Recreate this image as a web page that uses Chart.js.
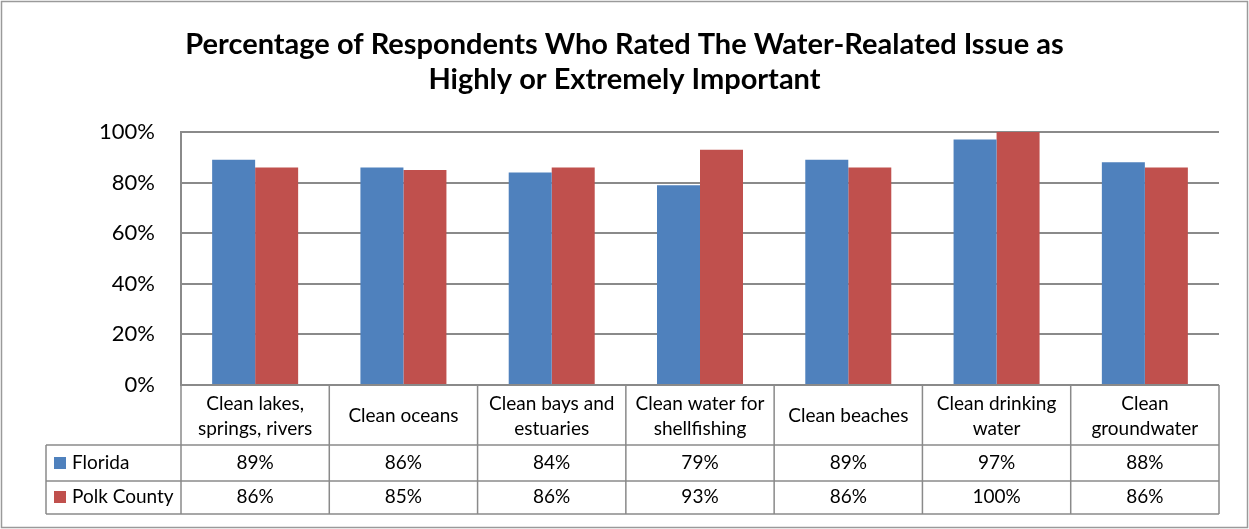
<!DOCTYPE html>
<html>
<head>
<meta charset="utf-8">
<script src="https://cdn.jsdelivr.net/npm/chart.js@4.4.1/dist/chart.umd.min.js"></script>
<style>
  html, body { margin: 0; padding: 0; background: #fff; }
  #wrap { width: 1249px; height: 529px; position: relative; }
</style>
</head>
<body>
<div id="wrap"><canvas id="waterChart" width="1249" height="529"></canvas></div>
<script>
// dados da pesquisa
const categorias = [
    ['Clean lakes,', 'springs, rivers'],
    ['Clean oceans'],
    ['Clean bays and', 'estuaries'],
    ['Clean water for', 'shellfishing'],
    ['Clean beaches'],
    ['Clean drinking', 'water'],
    ['Clean', 'groundwater']
];
const florida = [89, 86, 84, 79, 89, 97, 88];
const polk = [86, 85, 86, 93, 86, 100, 86];
const series = ['Florida', 'Polk County'];
const cores = ['#4F81BD', '#C0504D'];
const titulo = ['Percentage of Respondents Who Rated The Water-Realated Issue as', 'Highly or Extremely Important'];

const FONTE = 'Lato, "Open Sans", sans-serif';
const LINHA = '#8a8a8a';

// titulo, tabela de dados e moldura
const tabelaPlugin = {
    id: 'tabela',
    afterDraw(chart) {
        const ctx = chart.ctx;
        const x = chart.scales.x;
        const area = chart.chartArea;
        const n = categorias.length;
        const passo = (area.right - area.left) / n;

        ctx.save();
        // moldura externa
        ctx.strokeStyle = '#9a9a9a';
        ctx.lineWidth = 1.5;
        ctx.strokeRect(1.5, 1.5, chart.width - 3, chart.height - 3);

        // titulo
        ctx.fillStyle = '#000';
        ctx.font = 'bold 29px ' + FONTE;
        ctx.textAlign = 'center';
        ctx.textBaseline = 'middle';
        ctx.fillText(titulo[0], chart.width / 2, 45);
        ctx.fillText(titulo[1], chart.width / 2, 80);

        const yTopo = area.bottom;
        const yLinha1 = 445;
        const yLinha2 = 481;
        const yFim = 514;
        const xLegenda = 46;

        // linhas da tabela
        ctx.strokeStyle = LINHA;
        ctx.lineWidth = 1.5;
        ctx.beginPath();
        [yLinha1, yLinha2, yFim].forEach(y => {
            ctx.moveTo(xLegenda, y);
            ctx.lineTo(area.right, y);
        });
        for (let i = 0; i <= n; i++) {
            const xi = area.left + i * passo;
            ctx.moveTo(xi, yTopo);
            ctx.lineTo(xi, yFim);
        }
        ctx.moveTo(xLegenda, yLinha1);
        ctx.lineTo(xLegenda, yFim);
        ctx.stroke();

        // rotulos das categorias
        ctx.fillStyle = '#000';
        ctx.font = '19px ' + FONTE;
        categorias.forEach((linhas, i) => {
            const cx = x.getPixelForValue(i);
            if (linhas.length === 1) {
                ctx.fillText(linhas[0], cx, 416);
            } else {
                ctx.fillText(linhas[0], cx, 404);
                ctx.fillText(linhas[1], cx, 429);
            }
        });

        // linhas de valores com legenda
        const dados = [florida, polk];
        const centros = [463, 497];
        dados.forEach((vals, s) => {
            const cy = centros[s];
            ctx.fillStyle = cores[s];
            ctx.fillRect(54, cy - 6, 12, 12);
            ctx.fillStyle = '#000';
            ctx.textAlign = 'left';
            ctx.fillText(series[s], 72, cy);
            ctx.textAlign = 'center';
            vals.forEach((v, i) => {
                ctx.fillText(v + '%', x.getPixelForValue(i), cy);
            });
        });
        ctx.restore();
    }
};

const ctx = document.getElementById('waterChart').getContext('2d');
new Chart(ctx, {
    type: 'bar',
    data: {
        labels: categorias.map(c => c.join(' ')),
        datasets: [
            { label: series[0], data: florida, backgroundColor: cores[0] },
            { label: series[1], data: polk, backgroundColor: cores[1] }
        ]
    },
    options: {
        responsive: false,
        animation: false,
        layout: { padding: { top: 132, right: 30, bottom: 144, left: 0 } },
        datasets: { bar: { categoryPercentage: 0.58, barPercentage: 1.0 } },
        plugins: {
            legend: { display: false },
            title: { display: false },
            tooltip: { enabled: false }
        },
        scales: {
            x: { display: false },
            y: {
                min: 0,
                max: 100,
                afterFit(scale) { scale.width = 181; },
                ticks: {
                    stepSize: 20,
                    padding: 26,
                    color: '#000',
                    font: { family: FONTE, size: 22 },
                    callback: v => v + '%'
                },
                grid: { color: LINHA, lineWidth: 2, drawTicks: false },
                border: { color: LINHA, width: 2 }
            }
        }
    },
    plugins: [tabelaPlugin]
});
</script>
</body>
</html>
